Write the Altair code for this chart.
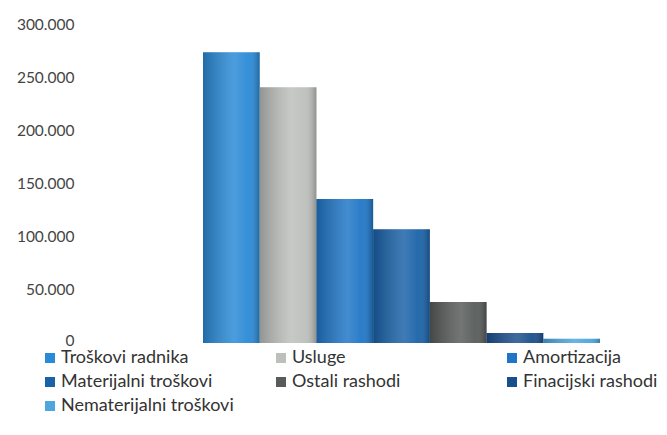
import altair as alt
import pandas as pd

categories = ["Troškovi radnika", "Usluge", "Amortizacija", "Materijalni troškovi",
              "Ostali rashodi", "Finacijski rashodi", "Nematerijalni troškovi"]
values = [273500, 240500, 135500, 107000, 38500, 9500, 4000]
colors = ["#2a8ad6", "#bdbfbc", "#1f76c6", "#1a62a8", "#575b59", "#1b4e8c", "#4ea6de"]
y_ticks = [0, 50000, 100000, 150000, 200000, 250000, 300000]

df = pd.DataFrame({"kategorija": categories, "vrijednost": values})

FONT = "Lato"

xscale = alt.Scale(domain=categories, paddingInner=0, paddingOuter=0, range=[121, 518])
yscale = alt.Scale(domain=[0, 300000])

base = alt.Chart(df)

bars = base.mark_bar().encode(
    x=alt.X("kategorija:N", scale=xscale, axis=None, sort=categories),
    y=alt.Y("vrijednost:Q", scale=yscale,
            axis=alt.Axis(values=y_ticks, title=None, grid=False, domain=False, ticks=False,
                          labelPadding=8, labelFontSize=15.5, labelColor="#444444", labelFont=FONT,
                          labelOffset={"condition": {"test": "datum.value === 0", "value": -3}, "value": 0},
                          labelExpr="replace(format(datum.value, ','), ',', '.')")),
    color=alt.Color("kategorija:N", scale=alt.Scale(domain=categories, range=colors),
                    legend=alt.Legend(title=None, orient="none", legendX=-41, legendY=325,
                                      direction="horizontal",
                                      columns=3, gridAlign="all", columnPadding=38, rowPadding=6,
                                      symbolType="square", symbolSize=100, symbolStrokeWidth=0,
                                      labelFontSize=18, labelFont=FONT, labelColor="#333333",
                                      labelLimit=300, symbolOffset=0, labelOffset=2)),
)

shade = base.mark_bar(
    fill=alt.Gradient(
        gradient="linear", x1=0, x2=1, y1=0, y2=0,
        stops=[alt.GradientStop(offset=0, color="rgba(0,0,0,0.22)"),
               alt.GradientStop(offset=0.55, color="rgba(255,255,255,0.16)"),
               alt.GradientStop(offset=0.8, color="rgba(255,255,255,0.05)"),
               alt.GradientStop(offset=1, color="rgba(0,0,0,0.25)")])
).encode(
    x=alt.X("kategorija:N", scale=xscale, axis=None, sort=categories),
    y=alt.Y("vrijednost:Q", scale=yscale),
)

chart = alt.layer(bars, shade).properties(
    width=565, height=319,
    padding={"left": 8, "top": 9, "right": 0, "bottom": 0},
    background="#ffffff",
).configure_view(stroke=None)

chart.save("out.html", embed_options={"renderer": "svg", "actions": False})
